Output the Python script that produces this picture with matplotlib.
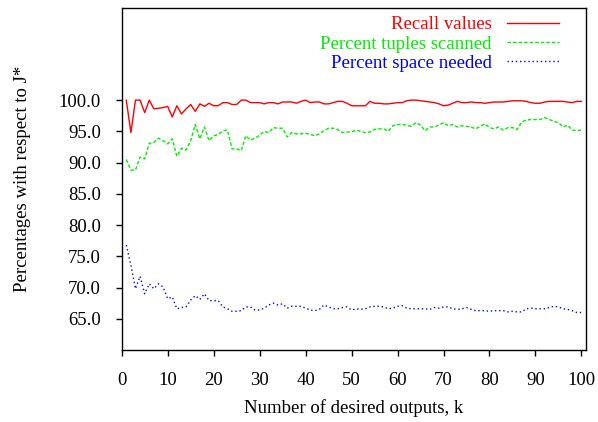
import numpy as np
import matplotlib
matplotlib.use("Agg")
import matplotlib.pyplot as plt

# values, k = 1..100
k = np.arange(1, 101)

recall = [100.0, 94.8, 100.0, 100.0, 98.0, 100.0, 98.6, 98.7, 98.8, 99.0,
          97.3, 99.1, 97.8, 98.6, 99.3, 98.2, 99.4, 99.0, 99.5, 99.1,
          99.1, 99.6, 99.6, 99.3, 99.3, 100.0, 100.0, 99.6, 99.6, 99.6,
          99.4, 99.6, 99.6, 99.4, 99.7, 99.7, 99.7, 99.5, 99.8, 100.0,
          99.6, 99.7, 99.7, 99.4, 99.4, 99.6, 99.8, 99.8, 99.5, 99.1,
          99.1, 99.1, 99.1, 99.8, 99.5, 99.5, 99.4, 99.4, 99.5, 99.6,
          99.6, 99.9, 100.0, 100.0, 99.9, 99.8, 99.7, 99.6, 99.4, 99.1,
          99.2, 99.5, 99.8, 99.6, 99.6, 99.7, 99.6, 99.6, 99.5, 99.6,
          99.7, 99.7, 99.7, 99.8, 99.9, 99.9, 99.9, 99.8, 99.6, 99.5,
          99.5, 99.7, 99.8, 99.8, 99.8, 99.8, 99.7, 99.6, 99.8, 99.8]

tuples = [90.5, 88.8, 88.8, 90.9, 90.6, 93.1, 93.2, 93.9, 93.5, 93.0,
          93.8, 91.0, 92.3, 92.0, 93.5, 96.1, 93.8, 95.7, 93.5, 94.3,
          94.5, 95.1, 95.2, 92.2, 92.2, 91.9, 94.3, 93.6, 93.9, 94.4,
          95.0, 94.8, 95.6, 95.5, 95.5, 94.1, 94.8, 94.6, 94.6, 94.7,
          94.5, 94.3, 94.6, 95.1, 95.5, 95.5, 95.3, 94.8, 94.9, 94.9,
          95.2, 95.0, 94.8, 94.9, 95.3, 95.4, 95.4, 95.0, 95.9, 96.1,
          96.1, 96.0, 95.8, 96.4, 96.0, 95.1, 95.7, 95.7, 96.0, 96.4,
          95.9, 96.1, 95.7, 95.9, 95.8, 95.7, 95.4, 95.8, 96.2, 95.6,
          95.4, 95.7, 95.2, 95.6, 95.6, 95.3, 96.5, 96.8, 96.9, 96.9,
          96.9, 97.2, 96.9, 96.6, 96.4, 95.7, 96.0, 95.2, 95.1, 95.2]

space = [76.8, 73.6, 69.8, 71.8, 69.0, 70.6, 69.8, 70.6, 70.1, 68.2,
         68.5, 66.6, 66.8, 66.9, 68.0, 68.7, 68.1, 69.0, 67.9, 67.9,
         67.9, 66.9, 66.6, 66.2, 66.2, 66.3, 66.9, 66.9, 66.4, 66.4,
         66.7, 67.2, 67.5, 67.2, 67.4, 66.7, 67.0, 67.0, 67.0, 66.7,
         66.4, 66.3, 66.5, 67.2, 66.9, 66.6, 66.6, 66.8, 66.9, 66.4,
         66.6, 66.5, 66.6, 66.9, 67.0, 67.0, 66.9, 66.6, 66.7, 67.0,
         67.1, 66.7, 66.6, 66.6, 66.6, 66.6, 66.5, 66.8, 66.7, 66.9,
         66.9, 66.6, 66.5, 66.6, 66.8, 66.5, 66.3, 66.3, 66.3, 66.2,
         66.3, 66.3, 66.3, 66.1, 66.2, 66.1, 66.1, 66.6, 66.7, 66.6,
         66.6, 66.6, 66.8, 67.0, 66.9, 66.6, 66.5, 66.3, 66.0, 66.0]

xticks = np.arange(0, 101, 10)
yticks = np.arange(65, 101, 5)

plt.rcParams['font.family'] = ['Liberation Serif', 'DejaVu Serif']
plt.rcParams['font.size'] = 13.5

fig = plt.figure(figsize=(5.98, 4.22), dpi=100)
ax = fig.add_axes([0.2035, 0.1706, 0.7765, 0.8112])

ax.plot(k, recall, color='#ff0000', lw=1.0, ls='-', label='Recall values')
ax.plot(k, tuples, color='#00ee00', lw=1.0, ls=(0, (2.5, 1.5)),
        label='Percent tuples scanned')
ax.plot(k, space, color='#0000ff', lw=1.0, ls=(0, (1, 2)),
        label='Percent space needed')

ax.set_xlim(0, 101)
ax.set_ylim(60, 114.8)
ax.set_xticks(xticks)
ax.set_yticks(yticks)
ax.set_yticklabels(["%.1f" % v for v in yticks])
ax.tick_params(direction='out', length=4, width=1)
ax.tick_params(axis='x', pad=12)
ax.tick_params(axis='y', pad=11)
for s in ax.spines.values():
    s.set_linewidth(1.0)

ax.set_xlabel('Number of desired outputs, k', labelpad=7)
ax.set_ylabel('Percentages with respect to J*', labelpad=20)

leg = ax.legend(loc='upper right', frameon=False, markerfirst=False,
                handlelength=2.8, handletextpad=0.8, labelspacing=0.12,
                borderaxespad=0.05, bbox_to_anchor=(0.96, 1.0))
for txt, line in zip(leg.get_texts(), leg.get_lines()):
    txt.set_color(line.get_color())
    txt.set_ha('right')

fig.savefig('out.png', dpi=100)
